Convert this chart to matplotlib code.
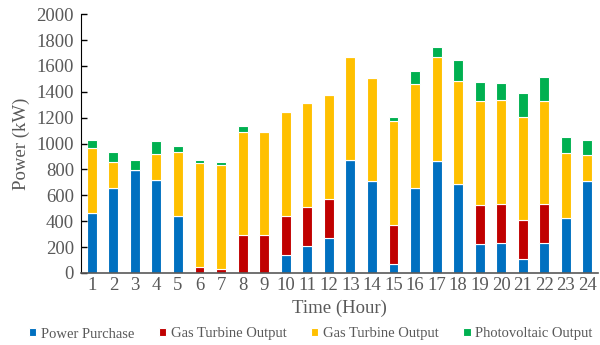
import numpy as np
import matplotlib
matplotlib.use("Agg")
import matplotlib.pyplot as plt

# hourly data (kW)
hours = np.arange(1, 25)
purchase = [465, 656, 797, 720, 436, 0, 0, 0, 0, 140, 210, 272, 871, 709, 70, 660,
            866, 685, 225, 232, 105, 228, 428, 714]
gt_red = [0, 0, 0, 0, 0, 48, 31, 290, 290, 302, 301, 301, 0, 0, 301, 0,
          0, 0, 300, 301, 302, 301, 0, 0]
gt_yellow = [500, 200, 0, 200, 500, 800, 804, 800, 800, 800, 800, 800, 800, 800, 800, 800,
             800, 802, 800, 800, 800, 800, 500, 198]
pv = [60, 80, 77, 100, 43, 22, 20, 44, 0, 0, 0, 0, 0, 0, 31, 103,
      83, 157, 149, 131, 180, 183, 123, 114]
labels = ["Power Purchase", "Gas Turbine Output", "Gas Turbine Output", "Photovoltaic Output"]
colors = ["#0070C0", "#C00000", "#FFC000", "#00B050"]

plt.rcParams['font.family'] = ['Liberation Serif', 'DejaVu Serif']

fig = plt.figure(figsize=(6, 3.45), dpi=100)
ax = fig.add_axes([0.135, 0.209, 0.862, 0.75])

bottom = np.zeros(24)
for vals, lab, c in zip([purchase, gt_red, gt_yellow, pv], labels, colors):
    vals = np.array(vals, dtype=float)
    ax.bar(hours, vals, 0.46, bottom=bottom, color=c, edgecolor="white",
           linewidth=0.8, label=lab)
    bottom += vals

ax.set_xlim(0.5, 24.5)
ax.set_ylim(0, 2000)
ax.set_yticks(np.arange(0, 2001, 200))
ax.set_xticks(hours)
ax.tick_params(axis="x", length=0, labelsize=13.5, labelcolor="#595959", pad=3)
ax.tick_params(axis="y", direction="in", length=4, labelsize=13.5, labelcolor="#595959",
               width=1, color="black", pad=5)
for s in ["top", "right"]:
    ax.spines[s].set_visible(False)
ax.spines["left"].set_color("black")
ax.spines["bottom"].set_color("#595959")
ax.spines["bottom"].set_linewidth(1.2)

ax.set_xlabel("Time (Hour)", fontsize=13.5, color="#595959", labelpad=4)
ax.set_ylabel("Power (kW)", fontsize=13.5, color="#595959", labelpad=5)

leg = fig.legend(loc="lower center", bbox_to_anchor=(0.518, -0.025), ncol=4, frameon=False,
                 fontsize=10.5, handlelength=0.5, handleheight=0.5, handletextpad=0.3,
                 columnspacing=1.7)
for t in leg.get_texts():
    t.set_color("#595959")

fig.savefig("out.png", dpi=100)
